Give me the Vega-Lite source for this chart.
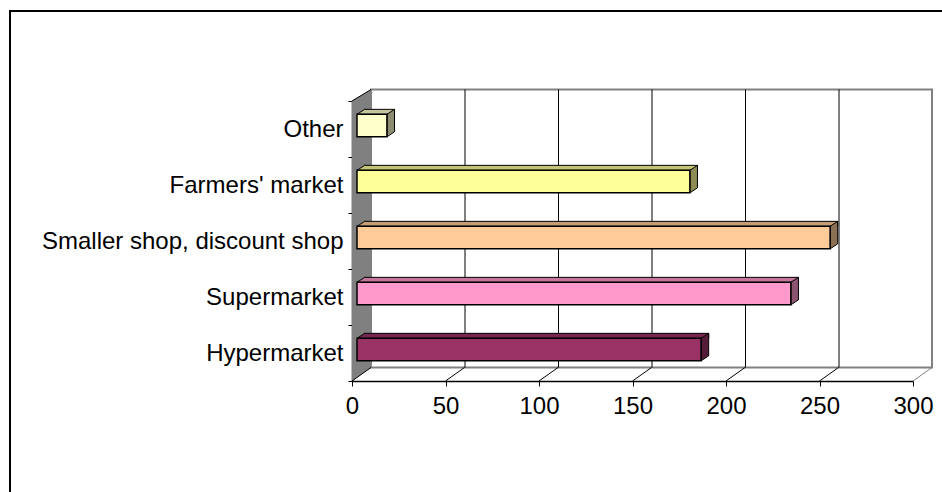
{
  "$schema": "https://vega.github.io/schema/vega-lite/v6.json",
  "width": 561,
  "height": 280,
  "autosize": {"type": "none"},
  "padding": {"left": 352, "top": 101, "right": 29, "bottom": 111},
  "background": "white",
  "config": {
    "view": {"stroke": null},
    "font": "Liberation Sans",
    "axis": {"labelFont": "Liberation Sans", "labelColor": "black", "domainColor": "black", "tickColor": "black", "grid": false, "zindex": 1}
  },
  "resolve": {"scale": {"y": "independent"}},
  "layer": [
    {
      "data": {"values": [{}]},
      "layer": [
        {
          "mark": {"type": "rect", "fill": "white", "stroke": "#808080", "strokeWidth": 2, "xOffset": 19, "x2Offset": 19, "yOffset": -13.5, "y2Offset": -11.5},
          "encoding": {
            "x": {"datum": 0, "type": "quantitative", "scale": {"domain": [0, 300], "nice": false}},
            "x2": {"datum": 300},
            "y": {"datum": 0, "type": "quantitative", "scale": {"domain": [0, 1], "nice": false}, "axis": null},
            "y2": {"datum": 1}
          }
        },
        {
          "data": {"values": [{"v": 50}, {"v": 100}, {"v": 150}, {"v": 200}, {"v": 250}]},
          "mark": {"type": "rule", "color": "black", "strokeWidth": 1, "xOffset": 19.5, "yOffset": -13.5, "y2Offset": -11.5},
          "encoding": {
            "x": {"field": "v", "type": "quantitative", "title": null},
            "y": {"datum": 0, "type": "quantitative", "axis": null},
            "y2": {"datum": 1}
          }
        },
        {
          "mark": {"type": "point", "shape": "M0,0L19,-13.5L19,-291.5L0,-280Z", "size": 4, "filled": true, "fill": "#808080", "strokeWidth": 0, "opacity": 1},
          "encoding": {
            "x": {"datum": 0, "type": "quantitative"},
            "y": {"datum": 0, "type": "quantitative", "axis": null}
          }
        },
        {
          "data": {"values": [{"v": 0}, {"v": 50}, {"v": 100}, {"v": 150}, {"v": 200}, {"v": 250}, {"v": 300}]},
          "mark": {"type": "rule", "strokeWidth": 1, "x2Offset": 19, "y2Offset": -13.5},
          "encoding": {
            "x": {"field": "v", "type": "quantitative", "title": null},
            "x2": {"field": "v"},
            "y": {"datum": 0, "type": "quantitative", "axis": null},
            "y2": {"datum": 0},
            "color": {"condition": {"test": "datum.v == 300", "value": "#808080"}, "value": "black"}
          }
        },
        {
          "mark": {"type": "point", "shape": "M0,0L19,-11.5", "size": 4, "filled": false, "color": "black", "strokeWidth": 1, "opacity": 1},
          "encoding": {
            "x": {"datum": 0, "type": "quantitative"},
            "y": {"datum": 1, "type": "quantitative", "axis": null}
          }
        },
        {
          "mark": {"type": "point", "shape": "M-342,-90L600,-90L600,400L-342,400Z", "size": 4, "filled": false, "color": "black", "strokeWidth": 2, "opacity": 1},
          "encoding": {
            "x": {"datum": 0, "type": "quantitative"},
            "y": {"datum": 1, "type": "quantitative", "axis": null}
          }
        }
      ]
    },
    {
      "data": {"values": [
        {"category": "Hypermarket", "value": 184},
        {"category": "Supermarket", "value": 232},
        {"category": "Smaller shop, discount shop", "value": 253},
        {"category": "Farmers' market", "value": 178},
        {"category": "Other", "value": 16}
      ]},
      "resolve": {"scale": {"color": "independent"}},
      "layer": [
        {
          "mark": {"type": "bar", "height": 5, "xOffset": 12.6, "x2Offset": 13.3, "yOffset": -17.15, "stroke": "black", "strokeWidth": 1, "opacity": 1},
          "encoding": {
            "x": {"field": "value", "type": "quantitative", "title": null},
            "y": {"field": "category", "type": "nominal", "sort": ["Other", "Farmers' market", "Smaller shop, discount shop", "Supermarket", "Hypermarket"], "scale": {"paddingInner": 0, "paddingOuter": 0}, "title": null,
              "axis": {"tickBand": "extent", "tickSize": 4, "labelPadding": 5, "labelFontSize": 24, "domainWidth": 1.5, "labelLimit": 400}},
            "color": {"field": "category", "type": "nominal", "legend": null,
              "scale": {"domain": ["Hypermarket", "Supermarket", "Smaller shop, discount shop", "Farmers' market", "Other"], "range": ["#762750", "#C4769D", "#C49D76", "#C4C476", "#C4C49D"]}}
          }
        },
        {
          "mark": {"type": "point", "shape": "M14,-14.65L5,-14.65L12.6,-19.65L14,-19.65", "size": 4, "filled": true, "stroke": "black", "strokeWidth": 1, "opacity": 1},
          "encoding": {
            "x": {"datum": 0, "type": "quantitative"},
            "y": {"field": "category", "type": "nominal", "sort": ["Other", "Farmers' market", "Smaller shop, discount shop", "Supermarket", "Hypermarket"]},
            "color": {"field": "category", "type": "nominal", "legend": null,
              "scale": {"domain": ["Hypermarket", "Supermarket", "Smaller shop, discount shop", "Farmers' market", "Other"], "range": ["#762750", "#C4769D", "#C49D76", "#C4C476", "#C4C49D"]}}
          }
        },
        {
          "mark": {"type": "point", "shape": "M5,-14.65L12.6,-19.65L12.6,2.85L5,7.85Z", "size": 4, "filled": true, "stroke": "black", "strokeWidth": 1, "opacity": 1},
          "encoding": {
            "x": {"field": "value", "type": "quantitative", "title": null},
            "y": {"field": "category", "type": "nominal", "sort": ["Other", "Farmers' market", "Smaller shop, discount shop", "Supermarket", "Hypermarket"]},
            "color": {"field": "category", "type": "nominal", "legend": null,
              "scale": {"domain": ["Hypermarket", "Supermarket", "Smaller shop, discount shop", "Farmers' market", "Other"], "range": ["#541C38", "#8C5470", "#8C7054", "#8C8C54", "#8C8C70"]}}
          }
        },
        {
          "mark": {"type": "bar", "height": 22.5, "xOffset": 5, "x2Offset": 5, "yOffset": -3.4, "stroke": "black", "strokeWidth": 1.5, "opacity": 1},
          "encoding": {
            "x": {"field": "value", "type": "quantitative", "title": null,
              "axis": {"values": [0, 50, 100, 150, 200, 250, 300], "tickSize": 5, "labelPadding": 8, "labelFontSize": 24, "labelFlush": false, "domainWidth": 1.5, "title": null}},
            "y": {"field": "category", "type": "nominal", "sort": ["Other", "Farmers' market", "Smaller shop, discount shop", "Supermarket", "Hypermarket"]},
            "color": {"field": "category", "type": "nominal", "legend": null,
              "scale": {"domain": ["Hypermarket", "Supermarket", "Smaller shop, discount shop", "Farmers' market", "Other"], "range": ["#993366", "#FF99CC", "#FFCC99", "#FFFF99", "#FFFFCC"]}}
          }
        }
      ]
    }
  ]
}
